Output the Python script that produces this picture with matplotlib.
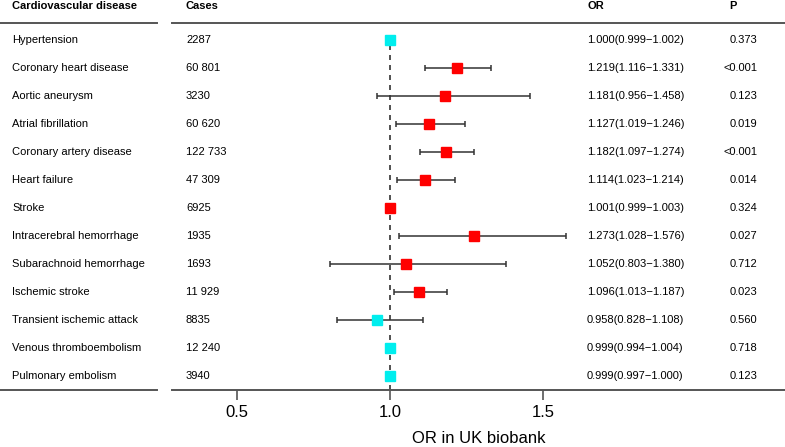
import matplotlib
matplotlib.use('Agg')
import matplotlib.pyplot as plt
from matplotlib.transforms import blended_transform_factory
from matplotlib.lines import Line2D

plt.rcParams['font.family'] = ['Liberation Sans', 'DejaVu Sans']

# data
diseases = ['Hypertension', 'Coronary heart disease', 'Aortic aneurysm',
            'Atrial fibrillation', 'Coronary artery disease', 'Heart failure',
            'Stroke', 'Intracerebral hemorrhage', 'Subarachnoid hemorrhage',
            'Ischemic stroke', 'Transient ischemic attack',
            'Venous thromboembolism', 'Pulmonary embolism']
cases = ['2287', '60 801', '3230', '60 620', '122 733', '47 309', '6925',
         '1935', '1693', '11 929', '8835', '12 240', '3940']
or_val = [1.000, 1.219, 1.181, 1.127, 1.182, 1.114, 1.001, 1.273, 1.052,
          1.096, 0.958, 0.999, 0.999]
ci_low = [0.999, 1.116, 0.956, 1.019, 1.097, 1.023, 0.999, 1.028, 0.803,
          1.013, 0.828, 0.994, 0.997]
ci_high = [1.002, 1.331, 1.458, 1.246, 1.274, 1.214, 1.003, 1.576, 1.380,
           1.187, 1.108, 1.004, 1.000]
p_vals = ['0.373', '<0.001', '0.123', '0.019', '<0.001', '0.014', '0.324',
          '0.027', '0.712', '0.023', '0.560', '0.718', '0.123']

W, H = 785, 447
fig = plt.figure(figsize=(W / 100, H / 100), dpi=100)
ax = fig.add_axes([172 / W, 1 - 390 / H, 1 - 172 / W, (390 - 23) / H])

n = len(diseases)
ys = [n - i for i in range(n)]
ax.set_xlim(1 - 218 / 306, 1 + 395 / 306)
ax.set_ylim(0.5, n + 17 / 28)

line_col = '#555555'
ax.plot([1, 1], [0.5, n], color='#333333', ls=(0, (3, 3)), lw=1.2, zorder=1)

for y, o, lo, hi in zip(ys, or_val, ci_low, ci_high):
    col = '#FF0000' if o > 1.0005 else '#00EEEE'
    ax.errorbar(o, y, xerr=[[o - lo], [hi - o]], fmt='none', ecolor='#333333',
                elinewidth=1.1, capsize=2.5, capthick=1.1, zorder=2)
    ax.plot(o, y, marker='s', ms=7.5, color=col, mec=col, ls='none', zorder=3)

for s in ['left', 'right']:
    ax.spines[s].set_visible(False)
for s in ['top', 'bottom']:
    ax.spines[s].set_color(line_col)
    ax.spines[s].set_linewidth(1.4)
ax.set_yticks([])
ax.set_xticks([0.5, 1.0, 1.5])
ax.set_xticklabels(['0.5', '1.0', '1.5'], fontsize=12)
ax.tick_params(axis='x', length=7, width=1.2, color=line_col, pad=4)
ax.set_xlabel('OR in UK biobank', fontsize=12, labelpad=8)

# left segments of header and bottom lines
for yy in [1 - 23 / H, 1 - 390 / H]:
    fig.add_artist(Line2D([0, 157 / W], [yy, yy], color=line_col, lw=1.4,
                          transform=fig.transFigure))

tr = blended_transform_factory(fig.transFigure, ax.transData)
hy = n + 1.22
fs = 8
fig_kw = dict(transform=tr, va='center', clip_on=False)
ax.text(12 / W, hy, 'Cardiovascular disease', fontsize=fs, fontweight='bold', **fig_kw)
ax.text(186 / W, hy, 'Cases', fontsize=fs, fontweight='bold', **fig_kw)
ax.text(587 / W, hy, 'OR', fontsize=fs, fontweight='bold', **fig_kw)
ax.text(729 / W, hy, 'P', fontsize=fs, fontweight='bold', **fig_kw)

for y, d, c, o, lo, hi, p in zip(ys, diseases, cases, or_val, ci_low, ci_high, p_vals):
    ax.text(12 / W, y, d, fontsize=fs, **fig_kw)
    ax.text(186 / W, y, c, fontsize=fs, **fig_kw)
    ax.text(587 / W, y, f'{o:.3f}({lo:.3f}\u2212{hi:.3f})', fontsize=fs, **fig_kw)
    ax.text(757 / W, y, p, fontsize=fs, ha='right', **fig_kw)

fig.savefig('out.png', dpi=100)
